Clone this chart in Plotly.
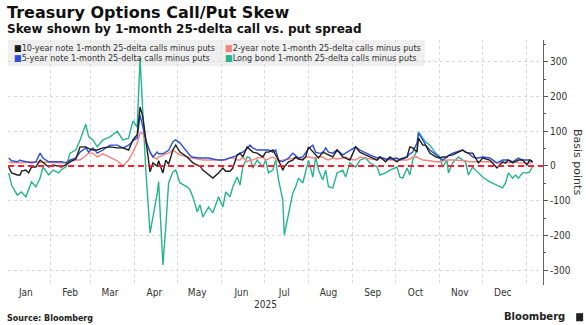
import pandas as pd
import plotly.graph_objects as go

# ---------------- data ----------------
start_date = "2025-01-01"
# observation day (days since 2025-01-01)
obs_day = [2, 4, 8, 10, 11, 14, 16, 18, 21, 24, 26, 30, 33, 37, 39, 42, 45, 49, 52, 56,
           58, 61, 64, 68, 73, 78, 82, 86, 89, 92, 94, 96, 98, 101, 103, 106, 107, 110, 112, 114,
           117, 119, 122, 127, 129, 131, 134, 136, 138, 142, 145, 149, 152, 154, 157, 159, 162, 164, 166, 169,
           171, 173, 176, 180, 182, 184, 187, 189, 191, 194, 195, 198, 201, 203, 205, 208, 210, 212, 215, 217,
           219, 222, 224, 226, 229, 232, 236, 238, 241, 245, 248, 252, 255, 260, 262, 266, 269, 274, 276, 278,
           281, 283, 285, 288, 289, 292, 294, 297, 301, 304, 306, 309, 310, 313, 315, 317, 320, 322, 324, 327,
           329, 331, 334, 339, 344, 348, 350, 352, 355, 357, 359, 362, 365, 367, 369]

ten_year = [-3, -20, -26, -26, -15, -12, -20, -3, -3, 17, 10, -3, 3, 0, -3, 3, 12, 20, 55, 55,
            50, 46, 46, 52, 55, 52, 52, 46, 75, 90, 170, 141, 75, -17, 9, 0, 15, -20, 17, 5,
            46, 60, 40, 26, 17, 9, 3, 0, -12, -26, -35, -20, -6, -15, -15, -6, 32, 37, 26, 55,
            46, 40, 37, 26, 40, 40, 46, 30, 17, -12, -3, 12, 17, 26, 20, 17, 26, 55, 40, 30,
            23, 40, 37, 32, 26, 46, 26, 23, 17, 55, 40, 32, 26, 17, 26, 12, 26, 12, 20, 23,
            26, 55, 52, 40, 80, 60, 60, 37, 26, 23, 26, 26, 30, 32, 37, 40, 46, 40, 37, 37,
            23, 9, 23, 17, -6, 12, 9, 17, 9, 12, 17, 17, 3, 17, 12]

two_year = [12, 10, 9, 9, 10, 10, 12, 12, 12, 12, 12, 12, 10, 9, 9, 9, 17, 17, 17, 30,
            37, 37, 26, 35, 26, 15, 0, 17, 40, 66, 95, 95, 66, 40, 26, 20, 26, 30, 35, 37,
            46, 40, 32, 26, 23, 23, 20, 17, 17, 17, 17, 17, 17, 17, 23, 23, 17, 17, 26, 12,
            17, 17, 23, 26, 17, 20, 26, 20, 12, 17, 17, 20, 23, 23, 20, 20, 26, 26, 23, 23,
            26, 26, 20, 17, 23, 20, 23, 26, 20, 17, 26, 23, 20, 17, 23, 20, 17, 17, 17, 17,
            17, 20, 26, 26, 23, 17, 17, 15, 12, 12, 15, 17, 17, 17, 17, 17, 17, 15, 12, 12,
            12, 12, 12, 12, 9, 9, 9, 9, 12, 12, 9, 9, 9, 9, 9]

five_year = [23, 15, 12, 17, 15, 12, 10, 9, 12, 37, 23, 12, 12, 12, 12, 9, 17, 23, 40, 52,
             40, 52, 37, 46, 60, 60, 52, 60, 72, 80, 147, 112, 75, 40, 26, 40, 35, 35, 40, 45,
             70, 75, 66, 40, 30, 25, 23, 23, 23, 23, 20, 17, 17, 20, 23, 26, 30, 37, 40, 50,
             60, 52, 46, 46, 46, 46, 40, 46, 17, 12, 15, 23, 37, 30, 23, 26, 40, 50, 60, 40,
             37, 37, 52, 40, 37, 46, 32, 37, 46, 55, 46, 37, 32, 23, 26, 20, 20, 23, 17, 20,
             26, 35, 40, 66, 95, 75, 60, 46, 32, 23, 17, 26, 30, 37, 40, 42, 46, 40, 37, 26,
             23, 23, 26, 23, 9, 17, 17, 17, 12, 17, 23, 17, 17, 17, 12]

long_bond = [-20, -55, -84, -78, -75, -89, -70, -46, -60, -35, -3, -26, -12, -20, -10, -3, 37, 46, 75, 120,
             84, 75, 55, 75, 84, 100, 75, 80, 130, 112, 310, 127, -10, -193, -150, -80, -45, -285, -176, -49,
             -17, -12, -49, -60, -69, -89, -132, -112, -147, -118, -135, -89, -118, -75, -89, -60, -32, -55, -3, 26,
             23, -6, 17, -3, 17, -20, -12, 17, -40, -98, -199, -135, -78, -60, -35, -49, -12, 17, -32, 26,
             -12, -40, -12, -60, -63, -20, -12, -32, 9, -3, 17, 23, 9, -3, -26, -20, -12, -3, -32, -35,
             -6, -26, 17, 46, 98, 80, 69, 60, 37, 26, -3, 17, -20, 9, 17, 26, 17, 12, -26, -3,
             -12, -20, -32, -46, -55, -63, -49, -20, -35, -26, -35, -20, -20, -17, 0]

series_names = ["10-year note 1-month 25-delta calls minus puts",
                "2-year note 1-month 25-delta calls minus puts",
                "5-year note 1-month 25-delta calls minus puts",
                "Long bond 1-month 25-delta calls minus puts"]
series_colors = ["#1e1e1e", "#f4837d", "#2c4fd6", "#25b48e"]

month_labels = ["Jan", "Feb", "Mar", "Apr", "May", "Jun", "Jul", "Aug", "Sep", "Oct", "Nov", "Dec"]
y_tick_values = [-300, -200, -100, 0, 100, 200, 300]
y_tick_labels = ["-300", "-200", "-100", "0", "100", "200", "300"]

title_text = "Treasury Options Call/Put Skew"
subtitle_text = "Skew shown by 1-month 25-delta call vs. put spread"

# ---------------- figure ----------------
dates = pd.Timestamp(start_date) + pd.to_timedelta(obs_day, unit="D")
values = {0: ten_year, 1: two_year, 2: five_year, 3: long_bond}

fig = go.Figure()
for i in [3, 1, 2, 0]:
    fig.add_trace(go.Scatter(x=dates, y=values[i], mode="lines", name=series_names[i],
                             line=dict(color=series_colors[i], width=1.4), showlegend=False,
                             hoverinfo="skip"))

month_mid = [pd.Timestamp(2025, m, 15) for m in range(1, 13)]

fig.update_layout(
    width=586, height=325,
    margin=dict(l=8, r=43, t=40, b=40),
    paper_bgcolor="white", plot_bgcolor="white",
    font=dict(family="DejaVu Sans", color="#333"),
    xaxis=dict(type="date", range=["2025-01-02 12:00", "2026-01-12 06:00"],
               tickmode="array", tickvals=month_mid, ticktext=month_labels,
               ticks="", showgrid=False, showline=False, zeroline=False,
               tickfont=dict(family="DejaVu Sans Condensed, DejaVu Sans", size=10, color="#333"),
               minor=dict(tick0="2025-01-01", dtick="M1", showgrid=True, gridcolor="#d8d8d8",
                          griddash="dot", gridwidth=1, ticks="")),
    yaxis=dict(side="right", range=[-343, 363], tickmode="array", tickvals=y_tick_values,
               ticktext=y_tick_labels, ticks="outside", ticklen=4, tickcolor="#555",
               showline=True, linecolor="#666", linewidth=1, zeroline=False,
               showgrid=True, gridcolor="#d8d8d8", griddash="dot", gridwidth=1,
               tickfont=dict(family="DejaVu Sans Condensed, DejaVu Sans", size=10, color="#333"),
               minor=dict(dtick=50, ticks="outside", ticklen=2, tickcolor="#555", showgrid=False)),
)

# zero reference line
fig.add_shape(type="line", xref="paper", x0=0, x1=1, yref="y", y0=0, y1=0,
              line=dict(color="#ff1f35", width=2, dash="6px,4px"), layer="above")

# legend panel
fig.add_shape(type="rect", xref="paper", yref="paper", x0=0, x1=0.779, y0=0.894, y1=1.0,
              fillcolor="#efefef", line=dict(width=0), layer="below")
leg_pos = [(0.0075, 0.969), (0.402, 0.969), (0.0075, 0.9245), (0.402, 0.9245)]
for i, (lx, ly) in enumerate(leg_pos):
    fig.add_annotation(xref="paper", yref="paper", x=lx, y=ly, xanchor="left", yanchor="middle",
                       showarrow=False,
                       text=f"<span style='color:{series_colors[i]}'>■</span>{series_names[i]}",
                       font=dict(family="DejaVu Sans Condensed, DejaVu Sans", size=9, color="#333"))

# titles
fig.add_annotation(xref="paper", yref="paper", x=-0.0056, y=1.114, xanchor="left", yanchor="middle",
                   showarrow=False, text=f"<b>{title_text}</b>",
                   font=dict(family="DejaVu Sans", size=16, color="#111"))
fig.add_annotation(xref="paper", yref="paper", x=-0.0056, y=1.045, xanchor="left", yanchor="middle",
                   showarrow=False, text=f"<b>{subtitle_text}</b>",
                   font=dict(family="DejaVu Sans", size=12, color="#111"))

# axis title
fig.add_annotation(xref="paper", yref="paper", x=1.0654, y=0.502, xanchor="center", yanchor="middle",
                   showarrow=False, text="Basis points", textangle=90,
                   font=dict(family="DejaVu Sans", size=11, color="#333"))
# year label
fig.add_annotation(xref="x", yref="paper", x="2025-07-02", y=-0.0816, xanchor="center", yanchor="middle",
                   showarrow=False, text="2025",
                   font=dict(family="DejaVu Sans Condensed, DejaVu Sans", size=10, color="#333"))
# footer
fig.add_annotation(xref="paper", yref="paper", x=-0.0056, y=-0.1347, xanchor="left", yanchor="middle",
                   showarrow=False, text="<b>Source: Bloomberg</b>",
                   font=dict(family="DejaVu Sans", size=8, color="#222"))
fig.add_annotation(xref="paper", yref="paper", x=1.045, y=-0.1306, xanchor="right", yanchor="middle",
                   showarrow=False, text="<b>Bloomberg</b>",
                   font=dict(family="DejaVu Sans", size=10, color="#222"))
fig.add_shape(type="rect", xref="paper", yref="paper", x0=1.062, x1=1.075, y0=-0.148, y1=-0.115,
              fillcolor="#222", line=dict(width=0))

fig.write_html("out.html")
